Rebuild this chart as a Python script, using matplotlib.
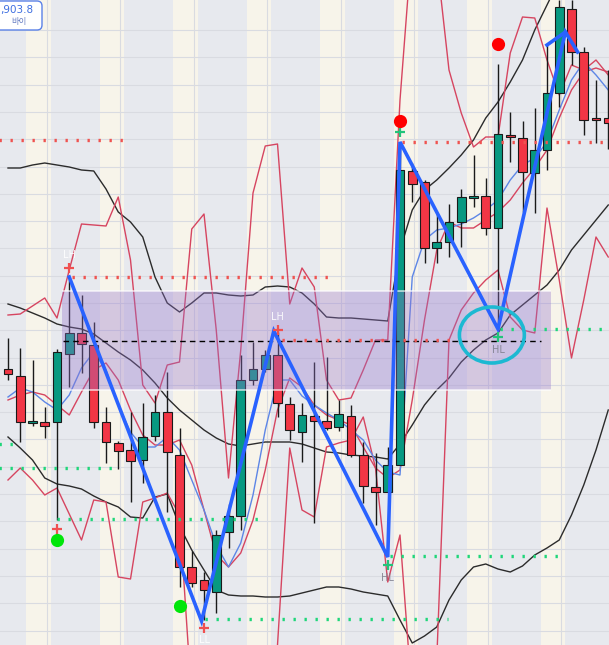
import numpy as np
import matplotlib.pyplot as plt
from matplotlib.patches import Rectangle, Ellipse, FancyBboxPatch
from matplotlib.transforms import IdentityTransform

# chart rows (price axis drawn top-down, like the screen)
opens = [369, 376, 422, 422, 422, 354, 333, 345, 422, 443,
         450, 460, 436, 412, 455, 567, 580, 592, 532, 516,
         380, 369, 355, 404, 432, 416, 421, 427, 416, 455,
         487, 492, 465, 171, 182, 248, 242, 222, 197, 196,
         228, 135, 138, 173, 150, 93, 9, 52, 118, 118]
closes = [374, 422, 421, 426, 352, 333, 344, 422, 442, 451,
          461, 437, 412, 452, 567, 583, 590, 535, 516, 380,
          369, 355, 403, 430, 415, 421, 428, 414, 455, 486,
          492, 465, 170, 184, 248, 242, 222, 197, 196, 228,
          134, 137, 172, 150, 93, 7, 52, 120, 119, 123]
highs = [338, 348, 360, 407, 349, 277, 295, 322, 407, 441,
         412, 403, 395, 372, 428, 551, 572, 530, 504, 355,
         342, 350, 332, 397, 403, 362, 357, 400, 405, 442,
         453, 447, 142, 163, 180, 213, 204, 189, 155, 178,
         64, 112, 121, 108, 45, 0, 0, 47, 80, 70]
lows = [380, 442, 426, 438, 520, 387, 373, 428, 463, 469,
        502, 483, 441, 512, 587, 587, 620, 613, 548, 530,
        385, 372, 417, 440, 462, 523, 430, 431, 457, 503,
        525, 492, 465, 202, 263, 263, 257, 247, 207, 235,
        329, 162, 212, 213, 170, 107, 65, 135, 143, 149]

bb_upper = [168, 168, 165, 163, 165, 167, 170, 171, 189, 212,
            222, 237, 277, 303, 312, 303, 293, 293, 295, 296,
            295, 287, 286, 287, 293, 304, 317, 318, 318, 319,
            320, 321, 250, 210, 190, 180, 168, 155, 140, 118,
            102, 82, 60, 30, 5, -20, -40, -50, -55, -60]
bb_mid = [304, 308, 313, 318, 324, 327, 329, 334, 343, 352,
          360, 370, 383, 398, 410, 420, 430, 438, 444, 446,
          444, 442, 442, 442, 444, 448, 452, 453, 455, 456,
          457, 459, 444, 425, 405, 390, 378, 362, 350, 340,
          333, 315, 305, 295, 285, 270, 250, 235, 220, 205]
bb_lower = [437, 448, 460, 478, 484, 486, 489, 496, 502, 507,
            517, 518, 497, 494, 526, 550, 570, 590, 595, 596,
            596, 597, 597, 596, 593, 590, 587, 587, 589, 592,
            594, 596, 620, 643, 636, 627, 600, 580, 567, 564,
            569, 572, 566, 555, 548, 540, 515, 485, 450, 410]

env_upper = [315, 314, 306, 298, 318, 270, 224, 225, 226, 197,
             260, 385, 403, 365, 362, 229, 214, 330, 478, 350,
             193, 146, 144, 304, 268, 287, 380, 400, 398, 370,
             340, 340, 100, -60, -80, -40, 70, 113, 147, 137,
             137, 53, 17, 18, 60, 95, 65, 70, 60, 75]
env_lower = [480, 468, 480, 495, 488, 514, 540, 500, 502, 577,
             579, 502, 498, 493, 515, 700, 720, 720, 720, 720,
             720, 700, 645, 448, 510, 517, 447, 443, 440, 417,
             468, 582, 535, 700, 700, 660, 340, 310, 293, 280,
             270, 317, 330, 333, 208, 280, 358, 300, 237, 257]

ma_fast = [397, 388, 392, 402, 410, 395, 368, 352, 370, 405,
           432, 447, 447, 437, 450, 480, 510, 545, 567, 543,
           495, 430, 380, 380, 396, 405, 413, 420, 430, 440,
           460, 472, 475, 277, 240, 230, 228, 224, 218, 210,
           200, 180, 165, 158, 142, 110, 80, 62, 75, 90]
ma_slow = [400, 395, 392, 395, 405, 415, 392, 370, 363, 380,
           410, 435, 445, 445, 440, 465, 510, 555, 567, 553,
           520, 470, 410, 378, 387, 405, 415, 420, 425, 447,
           468, 478, 470, 400, 320, 250, 222, 228, 228, 220,
           212, 200, 183, 168, 150, 118, 90, 72, 68, 72]

# zigzag swing points (bar index, row)
zz_x = [5, 15.8, 21.7, 31, 32, 40, 45.5, 46.5]
zz_y = [277, 621, 331, 557, 142, 329, 32, 52]
zz2_x = [44, 45.5]
zz2_y = [45, 32]

# horizontal levels: (start bar, end bar, row)
red_levels = [(-0.7, 9.8, 140), (5.2, 26.7, 277), (22.4, 36.9, 340), (32.2, 49.2, 142)]
green_levels = [(-0.7, 0.6, 444), (-0.7, 9.0, 468), (4.0, 20.7, 519),
                (16.1, 35.9, 619), (31.2, 45.1, 556), (40.2, 49.2, 329)]

# pivot labels
pivot_labels = [(5, 255, 'LH', 'white'), (22, 317, 'LH', 'white'),
                (16, 640, 'LL', 'white'), (31, 578, 'HL', '#80808e'),
                (40, 350, 'HL', '#80808e')]
red_plus = [(4, 529), (5, 268), (22, 330), (16, 628)]
green_plus = [(31, 565), (32, 132), (40, 337)]
red_dots = [(32, 121), (40, 44)]
green_dots = [(4, 540), (14, 606)]

green = '#089981'
red = '#f23645'
line_red = '#d64560'

W, H = 609, 645
fig = plt.figure(figsize=(W / 100, H / 100), dpi=100)
ax = fig.add_axes([0, 0, 1, 1])
ax.set_facecolor('#e7e9ee')
ax.set_xlim(-8 / 12.25, (W - 8) / 12.25)
ax.set_ylim(H, 0)

# session bands
for k in range(8):
    ax.axvspan(1.5 + 6 * k, 3.5 + 6 * k, color='#f7f4ea', zorder=0, lw=0)

ax.set_xticks(np.arange(3.15, 50, 6))
ax.set_yticks(np.arange(30, H, 27.3))
ax.grid(True, color='#d9dbe1', lw=0.8, zorder=0.5)
ax.set_axisbelow(True)
ax.tick_params(length=0, labelbottom=False, labelleft=False)
for s in ax.spines.values():
    s.set_visible(False)

x = np.arange(len(opens))

ax.plot(x, bb_upper, color='#2b2b2b', lw=1.0, zorder=1)
ax.plot(x, bb_mid, color='#2b2b2b', lw=1.0, zorder=1)
ax.plot(x, bb_lower, color='#2b2b2b', lw=1.0, zorder=1)
ax.plot(x, env_upper, color=line_red, lw=1.0, zorder=1.5)
ax.plot(x, env_lower, color=line_red, lw=1.0, zorder=1.5)
ax.plot(x, ma_slow, color=line_red, lw=1.0, zorder=2)
ax.plot(x, ma_fast, color='#5d86e6', lw=1.0, zorder=2)

# candles
o = np.array(opens)
c = np.array(closes)
cols = [green if cc < oo else red for oo, cc in zip(o, c)]
ax.vlines(x, highs, lows, color='#1a1a1a', lw=1.0, zorder=3)
top = np.minimum(o, c)
hgt = np.maximum(np.abs(c - o), 2)
ax.bar(x, hgt, bottom=top, width=0.72, color=cols, edgecolor='#1a1a1a', lw=0.8, zorder=3.2)

# zone box
ax.add_patch(Rectangle((4.42, 291), 44.3 - 4.42, 99, facecolor=(149 / 255, 117 / 255, 205 / 255),
                       alpha=0.35, lw=0, zorder=4))
ax.hlines([291, 390], 4.42, 44.3, colors='white', lw=1.2, alpha=0.7, zorder=4.1)
ax.hlines(341, 4.45, 43.5, colors='black', linestyles=(0, (4, 3)), lw=1.0, zorder=5)

for x0, x1, yv in red_levels:
    ax.plot([x0, x1], [yv, yv], color='#ef5350', lw=2.4, ls=(0, (0.7, 2.6)), zorder=5)
for x0, x1, yv in green_levels:
    ax.plot([x0, x1], [yv, yv], color='#1fd67a', lw=2.4, ls=(0, (0.7, 2.6)), zorder=5)

ax.plot(zz_x, zz_y, color='#2962ff', lw=2.6, zorder=6, solid_joinstyle='miter')
ax.plot(zz2_x, zz2_y, color='#2962ff', lw=2.6, zorder=6)

ax.add_patch(Ellipse((39.5, 335), 5.3, 56, angle=0, fill=False, edgecolor='#1cb9d2', lw=2.6, zorder=6.5))

for px, py in red_plus:
    ax.plot(px, py, marker='+', color='#f05050', ms=7, mew=1.6, zorder=7)
for px, py in green_plus:
    ax.plot(px, py, marker='+', color='#22c47a', ms=7, mew=1.6, zorder=7)
for px, py in red_dots:
    ax.plot(px, py, marker='o', color='#ff0000', ms=9.5, mew=0, zorder=7)
for px, py in green_dots:
    ax.plot(px, py, marker='o', color='#00e60a', ms=9.5, mew=0, zorder=7)
for px, py, t, col in pivot_labels:
    ax.text(px, py, t, color=col, fontsize=7, ha='center', va='center', alpha=0.9, zorder=8)

# price tag at top-left
tag = FancyBboxPatch((-10, H - 30), 52, 29, boxstyle='round,pad=0,rounding_size=5',
                     transform=IdentityTransform(), facecolor='white', edgecolor='#5b82e8', lw=1.0, zorder=10)
fig.patches.append(tag)
fig.text(33 / W, 1 - 9.5 / H, ',903.8', color='#3d6ee0', fontsize=7.5, ha='right', va='center', zorder=11)
fig.text(19 / W, 1 - 21.5 / H, '바이', color='#6a80c4', fontsize=6, zorder=11,
         ha='center', va='center', family=['Noto Sans CJK KR', 'DejaVu Sans'])

fig.savefig('out.png', dpi=100)
